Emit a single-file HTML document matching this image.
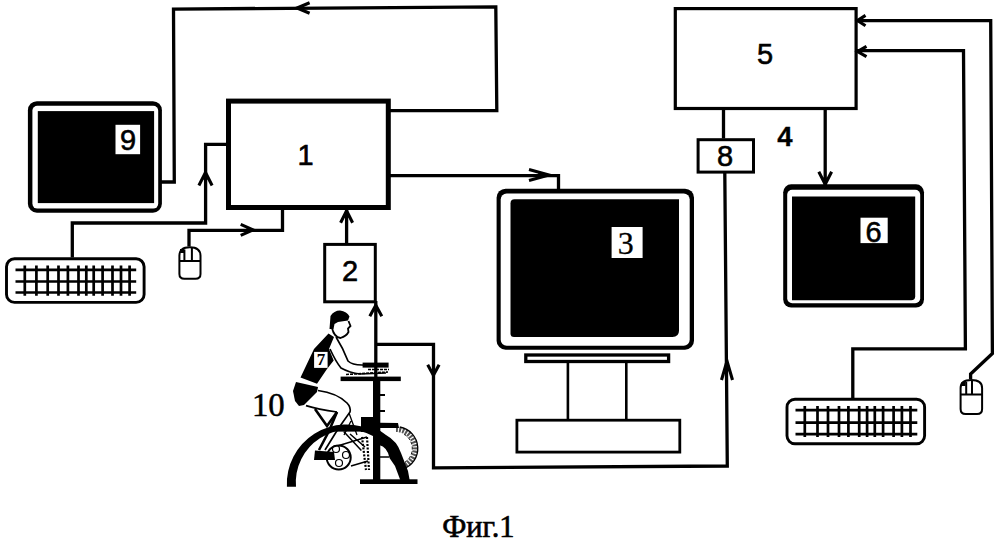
<!DOCTYPE html>
<html><head><meta charset="utf-8">
<style>
html,body{margin:0;padding:0;background:#fff;}
body{width:999px;height:544px;overflow:hidden;}
svg{display:block;}
</style></head><body>
<svg width="999" height="544" viewBox="0 0 999 544">
<rect width="999" height="544" fill="#fff"/>
<g fill="none" stroke="#000" stroke-width="3.3" stroke-linejoin="miter" stroke-linecap="butt">
<!-- connectors -->
<path d="M161 182H174.3L173.5 9.1L495.8 6.8L496.8 110.7H390"/>
<path d="M390 175.6H558.5V190"/>
<path d="M72.3 257.5V223H205.6V144.3H227"/>
<path d="M189 246.5V230.3H282.5V210"/>
<path d="M346.6 243V210"/>
<path d="M375.8 377V301"/>
<path d="M375.8 344.3H433.5V467.9L727.3 466L724.8 173"/>
<path d="M723.5 109.5V138.5"/>
<path d="M825.2 109.5V185"/>
<path d="M852.8 398V348.8H965.4L963.5 50.7H857"/>
<path d="M970.6 379V374L992.4 353.5L990.7 20.6H857"/>
<!-- arrows -->
<path d="M309.6 2.8L297 8L309.6 13.2" stroke-width="3.1"/>
<path d="M297 8L304.6 5.7L302.7 8.0L304.6 10.3Z" fill="#000" stroke="none"/>
<path d="M529.0 180.5L549 175L529.0 169.5" stroke-width="3.1"/>
<path d="M549 175L537.0 177.5L540.0 175.0L537.0 172.5Z" fill="#000" stroke="none"/>
<path d="M212.1 185.5L205.5 172.5L198.9 185.5" stroke-width="3.1"/>
<path d="M205.5 172.5L208.5 180.3L205.5 178.3L202.5 180.3Z" fill="#000" stroke="none"/>
<path d="M240.7 235.4L253.2 229.9L240.7 224.4" stroke-width="3.1"/>
<path d="M253.2 229.9L245.7 232.4L247.6 229.9L245.7 227.4Z" fill="#000" stroke="none"/>
<path d="M352.6 222.8L346.6 210.8L340.6 222.8" stroke-width="3.1"/>
<path d="M346.6 210.8L349.3 218.0L346.6 216.2L343.9 218.0Z" fill="#000" stroke="none"/>
<path d="M381.8 316.3L375.8 305.3L369.8 316.3" stroke-width="3.1"/>
<path d="M375.8 305.3L378.5 311.9L375.8 310.2L373.1 311.9Z" fill="#000" stroke="none"/>
<path d="M427.7 364.8L433.4 375.3L439.1 364.8" stroke-width="3.1"/>
<path d="M433.4 375.3L430.8 369.0L433.4 370.6L436.0 369.0Z" fill="#000" stroke="none"/>
<path d="M732.5 380.0L727 361L721.5 380.0" stroke-width="3.1"/>
<path d="M727 361L729.5 372.4L727.0 369.6L724.5 372.4Z" fill="#000" stroke="none"/>
<path d="M818.8 171.7L825.2 184.3L831.6 171.7" stroke-width="3.1"/>
<path d="M825.2 184.3L822.3 176.7L825.2 178.6L828.1 176.7Z" fill="#000" stroke="none"/>
<path d="M865.5 15.4L857.5 20.6L865.5 25.8" stroke-width="3.1"/>
<path d="M857.5 20.6L862.3 18.3L861.1 20.6L862.3 22.9Z" fill="#000" stroke="none"/>
<path d="M866.5 46.3L857.5 51.5L866.5 56.7" stroke-width="3.1"/>
<path d="M857.5 51.5L862.9 49.2L861.5 51.5L862.9 53.8Z" fill="#000" stroke="none"/>
<!-- boxes -->
<rect x="228.5" y="101.1" width="159.8" height="106.4" stroke-width="5"/>
<rect x="324.7" y="244.4" width="50.6" height="57.4" stroke-width="3"/>
<rect x="675.3" y="8.6" width="180.8" height="99.9" stroke-width="3.2"/>
<rect x="698.1" y="139.7" width="55.4" height="32.4" stroke-width="3"/>
</g>
<!-- monitor 9 -->
<rect x="27.9" y="101.2" width="134" height="111.5" rx="9" fill="#000"/>
<rect x="32.4" y="105.8" width="125.8" height="102.8" rx="5" fill="#fff"/>
<rect x="37.8" y="111.1" width="116.3" height="92" fill="#000"/>
<rect x="115.5" y="124.8" width="24.6" height="29.4" fill="#fff"/>
<!-- monitor 3 -->
<rect x="496.6" y="188.7" width="197.4" height="161" rx="9" fill="#000"/>
<rect x="500.7" y="193.5" width="189" height="152.2" rx="6" fill="#fff"/>
<path d="M514.5 199.3H679V330.5Q679 337 672.5 337H514Q510.5 337 510.5 333.5V203.3Q510.5 199.3 514.5 199.3Z" fill="#000"/>
<rect x="611.6" y="227" width="31" height="31" fill="#fff"/>
<g fill="none" stroke="#000">
<rect x="525.8" y="355" width="142.8" height="6.5" stroke-width="3.3"/>
<path d="M567.9 363V419.5M626.3 363V419.5" stroke-width="2.6"/>
<rect x="516.9" y="420.2" width="162.9" height="31.9" stroke-width="2.8"/>
</g>
<!-- monitor 6 -->
<rect x="783.2" y="184.3" width="140.8" height="123.2" rx="8" fill="#000"/>
<rect x="787.2" y="189.7" width="133" height="113.5" rx="5" fill="#fff"/>
<path d="M792 196.5H915.2V296.3Q915.2 300.3 911.2 300.3H792Z" fill="#000"/>
<rect x="860.5" y="217.7" width="27.2" height="25.4" fill="#fff"/>
<!-- keyboards -->
<g fill="none" stroke="#000" stroke-width="2.9">
<rect x="6.5" y="258.8" width="137.6" height="43.6" rx="8"/>
<rect x="787" y="399.2" width="137.6" height="44.6" rx="8"/>
</g>
<g fill="none" stroke="#000" stroke-width="2.7">
<path d="M15.5 269.9H136.2M15.5 281.5H136.2M15.5 292.5H136.2"/>
<path d="M24.8 265.5V295.8M36.4 265.5V295.8M47.7 265.5V295.8M58.5 265.5V295.8M67.9 265.5V295.8M78.5 265.5V295.8M86.3 265.5V295.8M93.7 265.5V295.8M102.6 265.5V295.8M112.5 265.5V295.8M121 265.5V295.8M129.6 265.5V295.8"/>
<path d="M795.5 410.2H917.3M795.5 422.6H917.3M795.5 434.2H917.3"/>
<path d="M804.8 406V437M817.5 406V437M828 406V437M839 406V437M848.4 406V437M859.2 406V437M867.1 406V437M874.8 406V437M883.1 406V437M893.6 406V437M901.9 406V437M910.5 406V437"/>
</g>
<!-- mice -->
<g fill="none" stroke="#000" stroke-width="2">
<path d="M179.4 261V256Q179.4 247.3 189.8 247.3Q200.5 247.3 200.5 256V274Q200.5 278.8 195.5 278.8H184.4Q179.4 278.8 179.4 274Z"/>
<path d="M179.4 261.1H200.5M184.4 249.5V261M191.9 248V261"/>
<path d="M960.6 394V388Q960.6 380 971.3 380Q982.1 380 982.1 388V409Q982.1 414 977.1 414H965.6Q960.6 414 960.6 409Z"/>
<path d="M960.6 394.4H982.1M966.2 382V394M972 380.5V394"/>
</g>
<rect x="180" y="249" width="4" height="4" fill="#000"/>
<rect x="961.5" y="382" width="4" height="4" fill="#000"/>
<!-- bike -->
<g id="bike">
<path d="M329.5 329L330.5 316Q334 310.5 340 310.5Q347 311.5 349.5 316.5L348 320.5L338 322L334.5 324L333.5 329Z" fill="#000"/>
<path d="M332 328Q334 337 340.5 338Q346.5 336 348.5 332L348 328.5L350.5 326L348.5 321" fill="none" stroke="#000" stroke-width="1.8"/>
<path d="M328.5 333.5L334 337L329 349L333.7 360.4L327 369L317 383.7L300.5 377.5L305 368L314 349Z" fill="#000"/>
<rect x="314.1" y="351.9" width="13.5" height="16" fill="#fff"/>
<text x="321" y="365.3" font-family="Liberation Serif,serif" font-weight="bold" font-size="17" text-anchor="middle" fill="#000">7</text>
<path d="M296 382L318 387L317 392L311 398L304 405L299 406L295 401L293 391Z" fill="#000"/>
<g fill="none" stroke="#000" stroke-width="1.7">
<path d="M336 337Q343 348 348 361Q352 365 362 365L384 366"/>
<path d="M330 349Q336 362 341 368Q350 373 360 374L386 373"/>
<path d="M318 390.5Q337 393 347 403Q351 407 350 412L338 429L325 450"/>
<path d="M306 405.6Q318 409.5 337 412"/>
<path d="M337 412L329 431L319 450" stroke-width="2.6"/>
<path d="M315 409L327 426L337 412" stroke-width="2.6"/>
<path d="M349 413L357 435M344 435L351 421" stroke-width="1.3"/>
<circle cx="338.7" cy="457.5" r="12" stroke-width="2"/>
<circle cx="336" cy="449" r="3.5" stroke-width="1.2"/>
<circle cx="346" cy="455" r="3.5" stroke-width="1.2"/>
<circle cx="339" cy="463" r="3.5" stroke-width="1.2"/>
<path d="M339 445.5L367 437M351 466L368 461M343.7 431.6L361.4 450.4M350 434L365 447" stroke-width="1.5"/>
<path d="M362 437L366 470M367 437L369 470" stroke-width="2.2" stroke-dasharray="2 1.5"/>
</g>
<path d="M315 450.5L334 452L335 460L314 460Z" fill="#000"/><rect x="337" y="427" width="43" height="4.6" fill="#000"/>
<path d="M286.9 486.8A59.53 59.53 0 0 1 374 431.3L374 436.5A52.59 52.59 0 0 0 296.0 486.8Z" fill="#000"/>
<path d="M396.0 429.5A19 19 0 0 1 400.9 466.9" fill="none" stroke="#555" stroke-width="5" stroke-dasharray="2 1.2"/><path d="M399.8 427.0A21.8 21.8 0 0 1 402.7 469.2" fill="none" stroke="#000" stroke-width="1.3"/><path d="M404.1 434.4A16.3 16.3 0 0 1 398.8 464.6" fill="none" stroke="#000" stroke-width="0.9" stroke-dasharray="3 2"/>
<path d="M380 422.7L398 423L399 428L380 428Z" fill="#000"/>
<path d="M379 430L386 435Q397 441 401 453L408 471L410 482L401 482L395 466L389.5 458Q387.5 447 379 445Z" fill="#000"/><path d="M380 457H389" stroke="#000" stroke-width="1.5"/>
<rect x="361" y="417" width="13" height="15" fill="#000"/>
<rect x="373" y="377" width="7.3" height="104" fill="#000"/>
<rect x="380" y="394" width="5" height="2" fill="#000"/>
<rect x="380" y="410" width="5" height="2" fill="#000"/>
<rect x="340.6" y="376.6" width="60.2" height="4.5" fill="#000"/>
<rect x="362.6" y="362.6" width="26" height="5" fill="#000"/><path d="M346 374.5L388 372M368 369.5H389" stroke="#000" stroke-width="1.6" stroke-dasharray="3 1"/>
<rect x="360" y="479.3" width="57.5" height="4.7" fill="#000"/>
</g>
<!-- labels -->
<g font-family="Liberation Sans,sans-serif" font-size="29" fill="#000" stroke="#000" stroke-width="0.6" text-anchor="middle">
<text x="128" y="149.8">9</text>
<text x="305.6" y="164.8">1</text>
<text x="350.1" y="280.5">2</text>
<text x="765" y="64.4">5</text>
<text x="725" y="166.4">8</text>
<text x="873.6" y="241.6">6</text>
<text x="785" y="145.9" font-weight="bold" font-size="27.5" stroke-width="0.3">4</text>
</g>
<g font-family="Liberation Serif,serif" fill="#000" stroke="#000" stroke-width="0.3">
<text x="625.7" y="254.3" font-size="32" text-anchor="middle">3</text>
<text x="268.3" y="416.3" font-size="32.8" stroke-width="0.5" text-anchor="middle">10</text>
<text x="478.4" y="537.3" font-size="30.5" stroke-width="0.6" text-anchor="middle">Фиг.1</text>
</g>
</svg>
</body></html>
